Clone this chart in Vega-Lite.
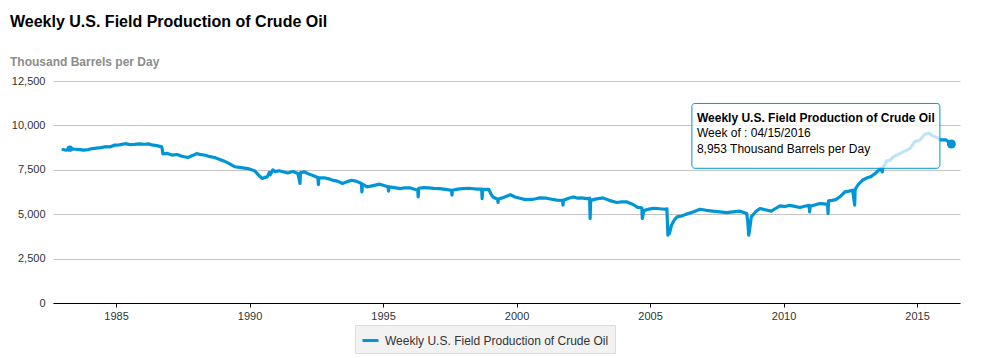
{
  "$schema": "https://vega.github.io/schema/vega-lite/v6.json",
  "width": 907,
  "height": 222,
  "autosize": {"type": "none"},
  "padding": {"left": 53, "top": 81, "right": 48, "bottom": 55},
  "background": "white",
  "title": {
    "text": "Weekly U.S. Field Production of Crude Oil",
    "subtitle": "Thousand Barrels per Day",
    "anchor": "start",
    "frame": "group",
    "dx": -43,
    "offset": 7,
    "font": "Liberation Sans",
    "fontSize": 16,
    "fontWeight": "bold",
    "color": "#000000",
    "subtitleFont": "Liberation Sans",
    "subtitleFontSize": 12,
    "subtitleFontWeight": "bold",
    "subtitleColor": "#8c8c8c",
    "subtitlePadding": 27
  },
  "config": {
    "view": {"stroke": null},
    "font": "Liberation Sans",
    "legend": {
      "orient": "none",
      "legendX": 302,
      "legendY": 244,
      "fillColor": "#f2f2f2",
      "strokeColor": "#dcdcdc",
      "padding": 6,
      "symbolType": "stroke",
      "symbolStrokeWidth": 3,
      "symbolSize": 256,
      "labelFontSize": 12,
      "labelColor": "#333333",
      "labelFont": "Liberation Sans",
      "labelLimit": 0,
      "labelOffset": 5
    }
  },
  "datasets": {
    "oil": [
      {"date": "1983-01-07", "value": 8640},
      {"date": "1983-02-18", "value": 8600},
      {"date": "1983-04-08", "value": 8690},
      {"date": "1983-06-03", "value": 8660},
      {"date": "1983-08-05", "value": 8650},
      {"date": "1983-10-14", "value": 8610},
      {"date": "1983-12-16", "value": 8640},
      {"date": "1984-02-10", "value": 8690},
      {"date": "1984-04-06", "value": 8720},
      {"date": "1984-06-08", "value": 8750},
      {"date": "1984-08-03", "value": 8800},
      {"date": "1984-10-05", "value": 8790},
      {"date": "1984-12-14", "value": 8890},
      {"date": "1985-02-15", "value": 8900},
      {"date": "1985-05-03", "value": 8970},
      {"date": "1985-07-12", "value": 8920},
      {"date": "1985-09-06", "value": 8930},
      {"date": "1985-11-15", "value": 8960},
      {"date": "1986-01-31", "value": 8940},
      {"date": "1986-03-21", "value": 8960},
      {"date": "1986-05-02", "value": 8900},
      {"date": "1986-07-11", "value": 8860},
      {"date": "1986-09-19", "value": 8790},
      {"date": "1986-10-03", "value": 8400},
      {"date": "1986-12-05", "value": 8420},
      {"date": "1987-02-06", "value": 8330},
      {"date": "1987-04-17", "value": 8360},
      {"date": "1987-06-19", "value": 8260},
      {"date": "1987-09-11", "value": 8190},
      {"date": "1987-11-13", "value": 8300},
      {"date": "1988-01-08", "value": 8410},
      {"date": "1988-03-11", "value": 8350},
      {"date": "1988-05-06", "value": 8320},
      {"date": "1988-07-08", "value": 8240},
      {"date": "1988-09-09", "value": 8190},
      {"date": "1988-11-11", "value": 8100},
      {"date": "1989-01-13", "value": 8000},
      {"date": "1989-03-24", "value": 7860},
      {"date": "1989-06-16", "value": 7670},
      {"date": "1989-09-08", "value": 7620},
      {"date": "1989-12-08", "value": 7570},
      {"date": "1990-03-09", "value": 7450},
      {"date": "1990-05-04", "value": 7200},
      {"date": "1990-06-22", "value": 7010},
      {"date": "1990-07-20", "value": 7060},
      {"date": "1990-08-31", "value": 7100},
      {"date": "1990-09-28", "value": 7350},
      {"date": "1990-10-12", "value": 7220},
      {"date": "1990-11-16", "value": 7500},
      {"date": "1990-12-21", "value": 7400},
      {"date": "1991-02-08", "value": 7450},
      {"date": "1991-04-12", "value": 7380},
      {"date": "1991-06-07", "value": 7320},
      {"date": "1991-08-16", "value": 7400},
      {"date": "1991-10-25", "value": 7290},
      {"date": "1991-11-22", "value": 6730},
      {"date": "1991-11-29", "value": 7340},
      {"date": "1992-01-24", "value": 7380},
      {"date": "1992-04-10", "value": 7230},
      {"date": "1992-06-05", "value": 7150},
      {"date": "1992-07-24", "value": 7050},
      {"date": "1992-07-31", "value": 6670},
      {"date": "1992-08-07", "value": 7040},
      {"date": "1992-10-30", "value": 7040},
      {"date": "1992-12-18", "value": 6990},
      {"date": "1993-02-05", "value": 6920},
      {"date": "1993-04-16", "value": 6860},
      {"date": "1993-06-25", "value": 6730},
      {"date": "1993-08-20", "value": 6820},
      {"date": "1993-10-29", "value": 6910},
      {"date": "1994-01-07", "value": 6850},
      {"date": "1994-03-11", "value": 6730},
      {"date": "1994-03-18", "value": 6260},
      {"date": "1994-03-25", "value": 6700},
      {"date": "1994-05-27", "value": 6540},
      {"date": "1994-08-19", "value": 6610},
      {"date": "1994-11-18", "value": 6690},
      {"date": "1995-01-13", "value": 6620},
      {"date": "1995-03-10", "value": 6540},
      {"date": "1995-03-17", "value": 6300},
      {"date": "1995-03-24", "value": 6540},
      {"date": "1995-06-02", "value": 6500},
      {"date": "1995-08-25", "value": 6440},
      {"date": "1995-10-27", "value": 6490},
      {"date": "1996-01-12", "value": 6480},
      {"date": "1996-04-19", "value": 6350},
      {"date": "1996-04-26", "value": 5970},
      {"date": "1996-05-03", "value": 6460},
      {"date": "1996-07-12", "value": 6500},
      {"date": "1996-09-20", "value": 6480},
      {"date": "1996-11-22", "value": 6450},
      {"date": "1997-02-14", "value": 6440},
      {"date": "1997-05-02", "value": 6400},
      {"date": "1997-07-25", "value": 6350},
      {"date": "1997-08-01", "value": 6070},
      {"date": "1997-08-08", "value": 6350},
      {"date": "1997-10-17", "value": 6410},
      {"date": "1997-12-26", "value": 6440},
      {"date": "1998-03-20", "value": 6460},
      {"date": "1998-07-10", "value": 6410},
      {"date": "1998-09-11", "value": 6420},
      {"date": "1998-09-18", "value": 5880},
      {"date": "1998-09-25", "value": 6400},
      {"date": "1998-12-18", "value": 6400},
      {"date": "1999-01-15", "value": 6150},
      {"date": "1999-02-12", "value": 5970},
      {"date": "1999-04-16", "value": 5840},
      {"date": "1999-04-23", "value": 5660},
      {"date": "1999-04-30", "value": 5850},
      {"date": "1999-07-16", "value": 5950},
      {"date": "1999-10-08", "value": 6100},
      {"date": "1999-12-10", "value": 5970},
      {"date": "2000-02-18", "value": 5900},
      {"date": "2000-04-28", "value": 5820},
      {"date": "2000-07-28", "value": 5830},
      {"date": "2000-09-22", "value": 5870},
      {"date": "2000-11-17", "value": 5920},
      {"date": "2001-02-16", "value": 5900},
      {"date": "2001-04-27", "value": 5840},
      {"date": "2001-07-06", "value": 5790},
      {"date": "2001-09-21", "value": 5780},
      {"date": "2001-09-28", "value": 5510},
      {"date": "2001-10-05", "value": 5780},
      {"date": "2001-12-14", "value": 5900},
      {"date": "2002-02-15", "value": 5970},
      {"date": "2002-04-19", "value": 5900},
      {"date": "2002-06-07", "value": 5920},
      {"date": "2002-08-16", "value": 5880},
      {"date": "2002-09-27", "value": 5900},
      {"date": "2002-10-04", "value": 4760},
      {"date": "2002-10-11", "value": 5780},
      {"date": "2002-12-13", "value": 5850},
      {"date": "2003-03-28", "value": 5920},
      {"date": "2003-06-20", "value": 5780},
      {"date": "2003-10-03", "value": 5660},
      {"date": "2003-12-12", "value": 5700},
      {"date": "2004-02-20", "value": 5690},
      {"date": "2004-05-07", "value": 5560},
      {"date": "2004-07-16", "value": 5380},
      {"date": "2004-09-10", "value": 5360},
      {"date": "2004-09-17", "value": 4760},
      {"date": "2004-09-24", "value": 4900},
      {"date": "2004-10-08", "value": 5200},
      {"date": "2004-12-17", "value": 5290},
      {"date": "2005-02-11", "value": 5330},
      {"date": "2005-04-08", "value": 5320},
      {"date": "2005-07-22", "value": 5280},
      {"date": "2005-08-19", "value": 5300},
      {"date": "2005-09-02", "value": 3820},
      {"date": "2005-09-09", "value": 4200},
      {"date": "2005-09-23", "value": 3900},
      {"date": "2005-10-21", "value": 4380},
      {"date": "2005-12-02", "value": 4700},
      {"date": "2006-01-06", "value": 4850},
      {"date": "2006-03-10", "value": 4900},
      {"date": "2006-05-05", "value": 4990},
      {"date": "2006-08-11", "value": 5120},
      {"date": "2006-11-17", "value": 5280},
      {"date": "2007-02-09", "value": 5220},
      {"date": "2007-05-11", "value": 5170},
      {"date": "2007-08-17", "value": 5130},
      {"date": "2007-11-16", "value": 5090},
      {"date": "2008-02-08", "value": 5130},
      {"date": "2008-05-16", "value": 5170},
      {"date": "2008-08-15", "value": 5040},
      {"date": "2008-08-29", "value": 4600},
      {"date": "2008-09-12", "value": 3820},
      {"date": "2008-09-26", "value": 4200},
      {"date": "2008-10-17", "value": 4850},
      {"date": "2008-12-19", "value": 5150},
      {"date": "2009-02-13", "value": 5320},
      {"date": "2009-04-24", "value": 5250},
      {"date": "2009-07-17", "value": 5170},
      {"date": "2009-09-25", "value": 5350},
      {"date": "2009-11-13", "value": 5470},
      {"date": "2010-01-22", "value": 5430},
      {"date": "2010-03-26", "value": 5500},
      {"date": "2010-06-04", "value": 5440},
      {"date": "2010-08-13", "value": 5380},
      {"date": "2010-10-15", "value": 5450},
      {"date": "2010-12-17", "value": 5500},
      {"date": "2010-12-24", "value": 5130},
      {"date": "2010-12-31", "value": 5450},
      {"date": "2011-03-04", "value": 5520},
      {"date": "2011-05-13", "value": 5600},
      {"date": "2011-07-08", "value": 5580},
      {"date": "2011-08-26", "value": 5550},
      {"date": "2011-09-02", "value": 5040},
      {"date": "2011-09-09", "value": 5750},
      {"date": "2011-10-28", "value": 5780},
      {"date": "2011-12-16", "value": 5820},
      {"date": "2012-02-17", "value": 6000},
      {"date": "2012-04-20", "value": 6260},
      {"date": "2012-06-15", "value": 6300},
      {"date": "2012-08-03", "value": 6350},
      {"date": "2012-08-31", "value": 5510},
      {"date": "2012-09-07", "value": 6400},
      {"date": "2012-10-12", "value": 6630},
      {"date": "2012-12-14", "value": 6910},
      {"date": "2013-02-15", "value": 7050},
      {"date": "2013-04-05", "value": 7100},
      {"date": "2013-06-07", "value": 7290},
      {"date": "2013-08-16", "value": 7570},
      {"date": "2013-09-13", "value": 7380},
      {"date": "2013-09-20", "value": 7600},
      {"date": "2013-11-15", "value": 8000},
      {"date": "2014-01-03", "value": 8050},
      {"date": "2014-02-07", "value": 8220},
      {"date": "2014-05-09", "value": 8410},
      {"date": "2014-07-18", "value": 8550},
      {"date": "2014-09-26", "value": 8690},
      {"date": "2014-12-05", "value": 9100},
      {"date": "2015-02-06", "value": 9160},
      {"date": "2015-04-17", "value": 9490},
      {"date": "2015-06-12", "value": 9570},
      {"date": "2015-07-24", "value": 9440},
      {"date": "2015-10-02", "value": 9310},
      {"date": "2015-11-13", "value": 9190},
      {"date": "2016-01-29", "value": 9190},
      {"date": "2016-04-15", "value": 8953}
    ],
    "dots": [
      {"date": "1983-04-08", "value": 8690, "r": 40},
      {"date": "2016-04-15", "value": 8953, "r": 80}
    ],
    "box": [
      {"x1": "2006-07-27", "x2": "2015-11-10", "y1": 11236, "y2": 7584}
    ],
    "head": [
      {"x": "2006-10-04", "y": 10169, "t": "Weekly U.S. Field Production of Crude Oil"}
    ],
    "body": [
      {"x": "2006-10-04", "y": 9326, "t": "Week of : 04/15/2016"},
      {"x": "2006-10-04", "y": 8427, "t": "8,953 Thousand Barrels per Day"}
    ]
  },
  "layer": [
    {
      "data": {"name": "oil"},
      "transform": [{"calculate": "'Weekly U.S. Field Production of Crude Oil'", "as": "series"}],
      "mark": {"type": "line", "strokeWidth": 3.2, "strokeJoin": "round", "strokeCap": "round"},
      "encoding": {
        "x": {
          "field": "date",
          "type": "temporal",
          "scale": {"type": "utc", "domain": [{"year": 1982, "month": 8, "date": 22, "utc": true}, {"year": 2016, "month": 8, "date": 11, "utc": true}]},
          "axis": {
            "title": null,
            "values": [{"year": 1985, "utc": true}, {"year": 1990, "utc": true}, {"year": 1995, "utc": true}, {"year": 2000, "utc": true}, {"year": 2005, "utc": true}, {"year": 2010, "utc": true}, {"year": 2015, "utc": true}],
            "format": "%Y",
            "grid": false,
            "domainColor": "#000000",
            "tickColor": "#000000",
            "tickSize": 4,
            "labelFontSize": 11,
            "labelColor": "#333333",
            "labelPadding": 3,
            "labelFont": "Liberation Sans"
          }
        },
        "y": {
          "field": "value",
          "type": "quantitative",
          "scale": {"domain": [0, 12500], "nice": false},
          "axis": {
            "title": null,
            "values": [0, 2500, 5000, 7500, 10000, 12500],
            "format": ",d",
            "domain": false,
            "ticks": false,
            "gridColor": "#c4c4c4",
            "labelFontSize": 11,
            "labelColor": "#333333",
            "labelPadding": 8,
            "labelFont": "Liberation Sans"
          }
        },
        "color": {
          "field": "series",
          "type": "nominal",
          "scale": {"range": ["#0096d6"]},
          "legend": {"title": null}
        }
      }
    },
    {
      "data": {"name": "dots"},
      "mark": {"type": "point", "filled": true, "opacity": 1, "color": "#0096d6"},
      "encoding": {
        "x": {"field": "date", "type": "temporal"},
        "y": {"field": "value", "type": "quantitative"},
        "size": {"field": "r", "type": "quantitative", "scale": null, "legend": null}
      }
    },
    {
      "data": {"name": "box"},
      "mark": {"type": "rect", "fill": "#ffffff", "fillOpacity": 0.75, "stroke": "#0096d6", "strokeWidth": 1, "cornerRadius": 3},
      "encoding": {
        "x": {"field": "x1", "type": "temporal"},
        "x2": {"field": "x2"},
        "y": {"field": "y1", "type": "quantitative"},
        "y2": {"field": "y2"}
      }
    },
    {
      "data": {"name": "head"},
      "mark": {"type": "text", "align": "left", "baseline": "alphabetic", "fontSize": 12, "fontWeight": "bold", "color": "#000000", "font": "Liberation Sans"},
      "encoding": {
        "x": {"field": "x", "type": "temporal"},
        "y": {"field": "y", "type": "quantitative"},
        "text": {"field": "t"}
      }
    },
    {
      "data": {"name": "body"},
      "mark": {"type": "text", "align": "left", "baseline": "alphabetic", "fontSize": 12, "color": "#000000", "font": "Liberation Sans"},
      "encoding": {
        "x": {"field": "x", "type": "temporal"},
        "y": {"field": "y", "type": "quantitative"},
        "text": {"field": "t"}
      }
    }
  ]
}
